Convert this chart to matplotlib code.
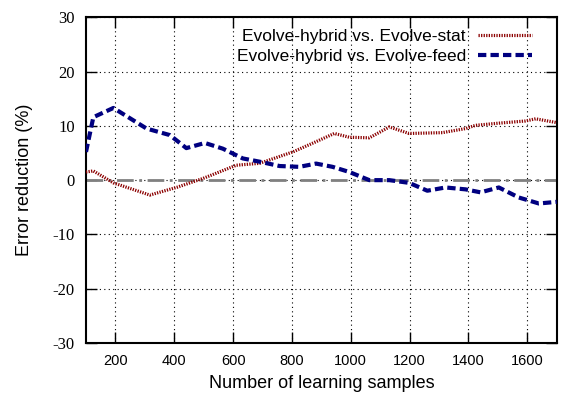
import numpy as np
import matplotlib.pyplot as plt

plt.rcParams['font.family'] = ['Liberation Sans', 'DejaVu Sans']

# Evolve-hybrid vs. Evolve-stat
stat_x = [100, 125, 193, 317, 410, 497, 611, 690, 803, 870, 944, 995, 1063, 1131,
          1198, 1311, 1390, 1424, 1503, 1594, 1628, 1690, 1700]
stat_y = [1.5, 1.7, -0.5, -2.75, -1.3, 0.3, 2.75, 3.1, 5.2, 6.8, 8.6, 7.9, 7.8, 9.8,
          8.6, 8.75, 9.5, 10.1, 10.5, 10.9, 11.3, 10.7, 10.6]

# Evolve-hybrid vs. Evolve-feed
feed_x = [100, 125, 193, 306, 385, 441, 504, 565, 633, 690, 758, 825, 882, 938,
          995, 1063, 1131, 1198, 1260, 1322, 1390, 1441, 1503, 1571, 1639, 1700]
feed_y = [5.2, 11.6, 13.3, 9.5, 8.3, 5.9, 6.85, 5.8, 4.0, 3.4, 2.6, 2.45, 3.05, 2.45,
          1.5, 0.0, 0.0, -0.5, -1.95, -1.35, -1.7, -2.25, -1.35, -3.2, -4.3, -4.0]

y_ticks = [-30, -20, -10, 0, 10, 20, 30]

fig = plt.figure(figsize=(5.87, 4.03), dpi=100)
ax = fig.add_axes([0.1465, 0.149, 0.802, 0.808])

ax.axhline(0, color='#808080', lw=2, linestyle=(0, (6, 2, 1, 2)), zorder=2)
ax.plot(stat_x, stat_y, color='#8b0000', lw=2.3, linestyle=(0, (0.4, 0.4)),
        label='Evolve-hybrid vs. Evolve-stat', zorder=3)
ax.plot(feed_x, feed_y, color='#000080', lw=3, linestyle=(0, (2, 1)),
        label='Evolve-hybrid vs. Evolve-feed', zorder=4)

ax.set_xlim(100, 1700)
ax.set_ylim(-30, 30)
ax.set_xticks(np.arange(200, 1700, 200))
ax.set_yticks(y_ticks, labels=[str(v) for v in y_ticks],
              fontfamily='Liberation Serif', fontsize=12)
ax.grid(True, color='black', linestyle=(0, (1, 3)), lw=0.8)
ax.tick_params(direction='in', top=True, right=True, length=8, width=1, pad=8)
ax.tick_params(axis='x', labelsize=10.5)
for s in ax.spines.values():
    s.set_linewidth(1.5)

ax.set_xlabel('Number of learning samples', fontsize=13, labelpad=5)
ax.set_ylabel('Error reduction (%)', fontsize=13, labelpad=14)

leg = ax.legend(loc='upper right', bbox_to_anchor=(0.962, 0.985), frameon=False,
                fontsize=12.5, markerfirst=False, handlelength=3.1,
                borderaxespad=0, labelspacing=0.25, handletextpad=0.7)

fig.savefig('out.png', dpi=100)
